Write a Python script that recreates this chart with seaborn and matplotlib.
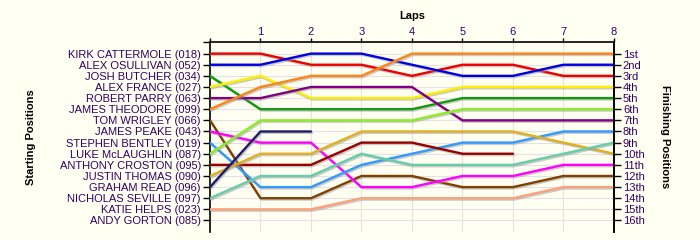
import matplotlib
matplotlib.use("Agg")
import matplotlib.pyplot as plt
import matplotlib.patheffects as pe
import seaborn as sns
import pandas as pd
import numpy as np

sns.set_theme(style="white")
plt.rcParams['font.family'] = ['Liberation Sans', 'DejaVu Sans']

# ---- data ----
laps = [0, 1, 2, 3, 4, 5, 6, 7, 8]
start_labels = ["KIRK CATTERMOLE (018)", "ALEX OSULLIVAN (052)", "JOSH BUTCHER (034)",
                "ALEX FRANCE (027)", "ROBERT PARRY (063)", "JAMES THEODORE (099)",
                "TOM WRIGLEY (066)", "JAMES PEAKE (043)", "STEPHEN BENTLEY (019)",
                "LUKE McLAUGHLIN (087)", "ANTHONY CROSTON (095)", "JUSTIN THOMAS (090)",
                "GRAHAM READ (096)", "NICHOLAS SEVILLE (097)", "KATIE HELPS (023)",
                "ANDY GORTON (085)"]
finish_labels = ["1st", "2nd", "3rd", "4th", "5th", "6th", "7th", "8th", "9th",
                 "10th", "11th", "12th", "13th", "14th", "15th", "16th"]

N = None
pos_018 = [1, 1, 2, 2, 3, 2, 2, 3, 3]
pos_052 = [2, 2, 1, 1, 2, 3, 3, 2, 2]
pos_034 = [3, 6, 6, 6, 6, 5, 5, 5, 5]
pos_027 = [4, 3, 5, 5, 5, 4, 4, 4, 4]
pos_063 = [5, 5, 4, 4, 4, 7, 7, 7, 7]
pos_099 = [6, 4, 3, 3, 1, 1, 1, 1, 1]
pos_066 = [7, 14, 14, 12, 12, 13, 13, 12, 12]
pos_043 = [8, 9, 9, 13, 13, 12, 12, 11, 11]
pos_019 = [9, 13, 13, 11, 10, 9, 9, 8, 8]
pos_087 = [10, 7, 7, 7, 7, 6, 6, 6, 6]
pos_095 = [11, 11, 11, 9, 9, 10, 10, N, N]
pos_090 = [12, 10, 10, 8, 8, 8, 8, 9, 10]
pos_096 = [13, 8, 8, N, N, N, N, N, N]
pos_097 = [14, 12, 12, 10, 11, 11, 11, 10, 9]
pos_023 = [15, 15, 15, 14, 14, 14, 14, 13, 13]

series = {
    "018": pos_018, "052": pos_052, "034": pos_034, "027": pos_027,
    "063": pos_063, "099": pos_099, "066": pos_066, "043": pos_043,
    "019": pos_019, "087": pos_087, "095": pos_095, "090": pos_090,
    "096": pos_096, "097": pos_097, "023": pos_023,
}
colors = {
    "018": "#ee0000", "052": "#0000e0", "034": "#109a10", "027": "#ffee00",
    "063": "#800080", "099": "#ff8418", "066": "#804000", "043": "#ff00ff",
    "019": "#3399ff", "087": "#88ee22", "095": "#990000", "090": "#e0b020",
    "096": "#1c1c6a", "097": "#66cdaa", "023": "#ffa07a",
}

rows = []
for k, v in series.items():
    for lap, p in zip(laps, v):
        if p is not None:
            rows.append({"driver": k, "lap": lap, "pos": p})
df = pd.DataFrame(rows)

bg = "#fffff2"
txt = "#330066"
fs = 8

fig = plt.figure(figsize=(7, 2.4), dpi=100, facecolor=bg)
ax = fig.add_axes([0.3, 0.035, 0.577, 0.788])
ax.set_facecolor(bg)

# grid
for lap in laps[1:-1]:
    ax.axvline(lap, color="#e2e2e2", lw=0.8, zorder=0)
for p in range(1, 17):
    ax.axhline(p, color="#e2e2e2", lw=0.8, zorder=0)

sns.lineplot(data=df, x="lap", y="pos", hue="driver", palette=colors,
             hue_order=list(series.keys()), ax=ax, legend=False, lw=1.7,
             estimator=None, sort=False, zorder=3)
for line in ax.get_lines()[-len(series):]:
    line.set_path_effects([pe.SimpleLineShadow(offset=(0.8, -1.0), shadow_color="#999999", alpha=0.5),
                           pe.Normal()])
    line.set_solid_joinstyle("round")

ax.set_xlim(0, 8)
ax.set_ylim(17, 0)

# spines
ax.spines["bottom"].set_visible(False)
for s in ["top", "left", "right"]:
    ax.spines[s].set_visible(True)
    ax.spines[s].set_color("black")
    ax.spines[s].set_linewidth(1.2)

# x axis on top
ax.xaxis.tick_top()
ax.xaxis.set_label_position("top")
ax.set_xticks(laps)
ax.set_xticklabels([""] + [str(l) for l in laps[1:]], color=txt, fontsize=fs)
ax.tick_params(axis="x", which="both", top=True, bottom=False, length=3, width=1, color="black", pad=1, direction="out")
ax.set_xlabel("Laps", fontweight="bold", fontsize=fs, labelpad=6, color="black")

# left y axis
ax.set_yticks(range(0, 17))
ax.set_yticklabels([""] + start_labels, color=txt, fontsize=fs)
ax.tick_params(axis="y", which="both", left=True, right=False, length=5, width=1, color="black", pad=1.5, direction="out")
ax.set_ylabel("Starting Positions", fontweight="bold", fontsize=fs, color="black")
ax.yaxis.set_label_coords(-0.43, 0.5)

# right y axis
ax2 = ax.twinx()
ax2.set_ylim(17, 0)
ax2.set_yticks(range(1, 17))
ax2.set_yticklabels(finish_labels, color=txt, fontsize=fs)
ax2.tick_params(axis="y", right=True, length=5, width=1, color="black", pad=1.5, direction="out")
for s in ["top", "bottom", "left"]:
    ax2.spines[s].set_visible(False)
ax2.spines["right"].set_color("black")
ax2.spines["right"].set_linewidth(1.2)
ax2.set_ylabel("Finishing Positions", fontweight="bold", fontsize=fs, rotation=-90, color="black")
ax2.yaxis.set_label_coords(1.14, 0.5)
ax2.grid(False)
ax.grid(False)

fig.savefig("out.png", dpi=100, facecolor=bg)
